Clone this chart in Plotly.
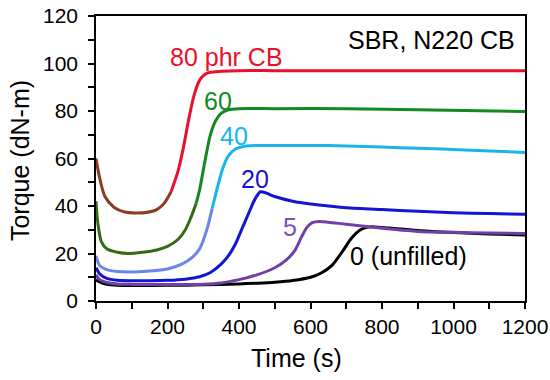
import plotly.graph_objects as go

# ---- data ----
t80 = [0, 10, 25, 50, 80, 110, 140, 170, 190, 210, 230, 245, 260, 275, 290, 305, 320, 350, 400, 500, 700, 900, 1200]
y80 = [60, 52, 44, 39.5, 37.5, 37.1, 37.3, 38.5, 41, 46, 55, 65, 77, 87, 93, 95.5, 96.3, 96.7, 97, 97, 97, 97, 97]

t60 = [0, 5, 15, 30, 60, 90, 130, 170, 200, 230, 250, 265, 280, 290, 300, 310, 320, 335, 350, 370, 400, 500, 700, 900, 1200]
y60 = [42, 33, 25, 22, 20.5, 20, 20.5, 21.5, 23, 26, 30, 35, 41, 47, 55, 63, 70, 76, 79, 80.5, 81, 81, 81, 80.5, 79.8]

t40 = [0, 10, 30, 60, 100, 150, 200, 240, 270, 290, 310, 325, 340, 355, 370, 390, 420, 500, 600, 700, 800, 900, 1000, 1100, 1200]
y40 = [19, 15, 13.2, 12.4, 12.2, 12.6, 13.5, 15.5, 18.5, 22, 30, 39, 48, 56, 61, 64, 65.3, 65.5, 65.5, 65.3, 64.8, 64.3, 63.8, 63.2, 62.5]

t20 = [0, 10, 30, 60, 100, 150, 200, 250, 290, 320, 350, 370, 390, 410, 430, 445, 460, 475, 500, 550, 600, 650, 700, 800, 900, 1000, 1100, 1200]
y20 = [14, 11.5, 9.5, 8.7, 8.5, 8.5, 8.7, 9.2, 10.2, 12, 15.5, 19, 24, 31, 38, 43, 46, 45.5, 44, 42, 40.8, 40, 39.3, 38.5, 37.8, 37.2, 36.8, 36.5]

t5 = [0, 10, 30, 60, 100, 200, 300, 350, 400, 450, 500, 530, 555, 575, 590, 605, 625, 650, 700, 750, 800, 900, 1000, 1100, 1200]
y5 = [11, 9, 7.8, 7.2, 7, 6.9, 7.1, 7.6, 9, 11, 14, 17, 21, 27, 31, 33, 33.5, 33.2, 32.3, 31.5, 30.6, 29.3, 28.9, 28.6, 28.4]

t0 = [0, 10, 30, 60, 100, 200, 300, 400, 450, 500, 550, 600, 630, 660, 690, 715, 740, 760, 780, 820, 900, 1000, 1100, 1200]
y0 = [9, 8, 7, 6.6, 6.5, 6.6, 6.8, 7.2, 7.5, 7.9, 8.6, 10, 11.8, 15, 21, 26.5, 30, 31.1, 31.2, 30.7, 29.7, 28.8, 28.2, 27.8]

labels = ["80 phr CB", "60", "40", "20", "5", "0 (unfilled)"]
label_t = [366, 342, 387, 446, 544, 873]
label_y = [102.7, 84.4, 69.6, 51.3, 31.3, 18.8]

x_ticks = [0, 200, 400, 600, 800, 1000, 1200]
y_ticks = [0, 20, 40, 60, 80, 100, 120]

# ---- styles ----
series = [
    (t80, y80, "#E8102A", "#8C3A22", 9),
    (t60, y60, "#128A22", "#356B14", 12),
    (t40, y40, "#16B6EA", "#6A86E6", 11),
    (t20, y20, "#1414D2", None, None),
    (t5, y5, "#7040A8", None, None),
    (t0, y0, "#000000", None, None),
]
label_colors = ["#E8102A", "#128A22", "#16B6EA", "#1414D2", "#7A50B8", "#000000"]

FONT = "Arial, 'Liberation Sans', sans-serif"
W, H = 550, 380
L, T = 96, 16
R = W - L - 428.6
B = H - T - 284.7
PW, PH = W - L - R, H - T - B


def px_to_paper_x(px):
    return (px - L) / PW


def px_to_paper_y(py):
    return (H - B - py) / PH


fig = go.Figure()
for t, y, col, lowcol, split in reversed(series):
    if lowcol is None:
        fig.add_trace(go.Scatter(x=t, y=y, mode="lines", hoverinfo="skip",
                                 line=dict(color=col, width=3, shape="spline", smoothing=0.8)))
    else:
        fig.add_trace(go.Scatter(x=t[:split + 1], y=y[:split + 1], mode="lines", hoverinfo="skip",
                                 line=dict(color=lowcol, width=3, shape="spline", smoothing=0.8)))
        fig.add_trace(go.Scatter(x=t[split:], y=y[split:], mode="lines", hoverinfo="skip",
                                 line=dict(color=col, width=3, shape="spline", smoothing=0.8)))

for lab, lt, ly, lc in zip(labels, label_t, label_y, label_colors):
    fig.add_annotation(x=lt, y=ly, text=lab, showarrow=False,
                       font=dict(family=FONT, size=25, color=lc),
                       xanchor="center", yanchor="middle")

fig.add_annotation(x=1178, y=110, text="SBR, N220 CB", showarrow=False,
                   font=dict(family=FONT, size=25, color="#000000"),
                   xanchor="right", yanchor="middle")

# axis titles as annotations for precise placement
fig.add_annotation(xref="paper", yref="paper", x=px_to_paper_x(296.7), y=px_to_paper_y(358),
                   text="Time (s)", showarrow=False,
                   font=dict(family=FONT, size=25, color="#000000"),
                   xanchor="center", yanchor="middle")
fig.add_annotation(xref="paper", yref="paper", x=px_to_paper_x(20), y=px_to_paper_y(160),
                   text="Torque (dN-m)", showarrow=False, textangle=-90,
                   font=dict(family=FONT, size=25, color="#000000"),
                   xanchor="center", yanchor="middle")

axis_common = dict(showgrid=False, zeroline=False, showline=True, linecolor="#000000",
                   linewidth=1.5, mirror=True, ticks="outside", ticklen=6, tickwidth=1.5,
                   tickcolor="#000000", automargin=False, ticklabeloverflow="allow",
                   tickfont=dict(family=FONT, size=21, color="#000000"))

fig.update_xaxes(range=[0, 1200], tickmode="array", tickvals=x_ticks,
                 ticktext=[str(v) for v in x_ticks],
                 minor=dict(dtick=100, ticks="outside", ticklen=6, tickwidth=1.5, tickcolor="#000000"),
                 **axis_common)
fig.update_yaxes(range=[0, 120], tickmode="array", tickvals=y_ticks,
                 ticktext=[str(v) for v in y_ticks], ticklabelstandoff=6,
                 minor=dict(dtick=10, ticks="outside", ticklen=6, tickwidth=1.5, tickcolor="#000000"),
                 **axis_common)

fig.update_layout(width=W, height=H, showlegend=False, hovermode=False,
                  margin=dict(l=L, r=R, t=T, b=B),
                  paper_bgcolor="#ffffff", plot_bgcolor="#ffffff",
                  font=dict(family=FONT))

fig.write_html("out.html", config={"displayModeBar": False},
               post_script="document.body.style.margin='0';document.body.style.overflow='hidden';")
